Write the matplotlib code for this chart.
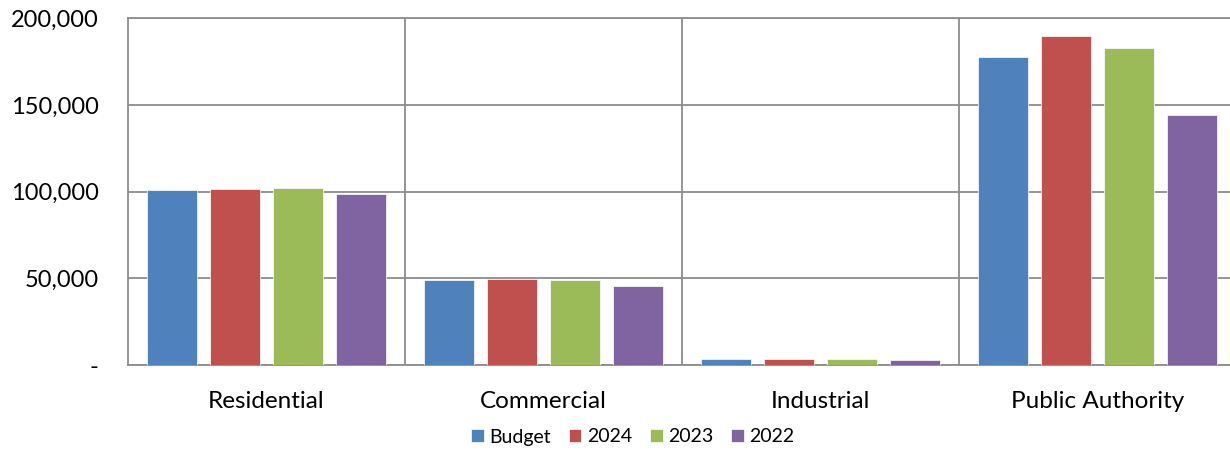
import matplotlib
matplotlib.use("Agg")
import matplotlib.pyplot as plt
import numpy as np
from matplotlib.ticker import FuncFormatter, FixedLocator

categories = ["Residential", "Commercial", "Industrial", "Public Authority"]
series_names = ["Budget", "2024", "2023", "2022"]
budget = [100900, 49000, 3300, 177800]
y2024 = [101300, 49700, 3700, 189800]
y2023 = [101900, 49200, 3500, 183000]
y2022 = [98600, 45800, 2700, 144000]
colors = ["#4F81BD", "#C0504D", "#9BBB59", "#8064A2"]
yticks = [0, 50000, 100000, 150000, 200000]

plt.rcParams['font.family'] = ['Lato', 'DejaVu Sans']

fig = plt.figure(figsize=(12.3, 4.51), dpi=100)
ax = fig.add_axes([128/1230, 1 - 365/451, 1108/1230, (365 - 18.3)/451])

x = np.arange(len(categories))
step = 63/277
width = 50/277
for i, (name, vals) in enumerate(zip(series_names, [budget, y2024, y2023, y2022])):
    ax.bar(x + (i - 1.5)*step, vals, width=width, color=colors[i], label=name,
           edgecolor='white', linewidth=0.5, zorder=3)

ax.set_xlim(-0.5, len(categories) - 0.5)
ax.set_ylim(0, 200000)
ax.set_yticks(yticks)
ax.yaxis.set_major_formatter(FuncFormatter(lambda v, p: "-" if v == 0 else f"{int(v):,}"))
ax.set_xticks(x)
ax.set_xticklabels(categories)
ax.xaxis.set_minor_locator(FixedLocator([0.5, 1.5, 2.5]))
ax.grid(axis='y', which='major', color='#8c8c8c', linewidth=1.3, zorder=1)
ax.grid(axis='x', which='minor', color='#8c8c8c', linewidth=1.3, zorder=1)
ax.tick_params(axis='both', which='both', length=0)
ax.tick_params(axis='y', labelsize=17, pad=21)
ax.tick_params(axis='x', labelsize=17.5, pad=18.5)
for s in ['left', 'bottom', 'top']:
    ax.spines[s].set_color('#8c8c8c')
    ax.spines[s].set_linewidth(1.3)
ax.spines['right'].set_visible(False)

leg = fig.legend(loc='center', bbox_to_anchor=(633/1230, 1 - 437/451), ncol=4, frameon=False,
                 fontsize=14, handlelength=0.65, handleheight=0.65, handletextpad=0.3,
                 columnspacing=0.9)

fig.savefig("out.png", dpi=100)
